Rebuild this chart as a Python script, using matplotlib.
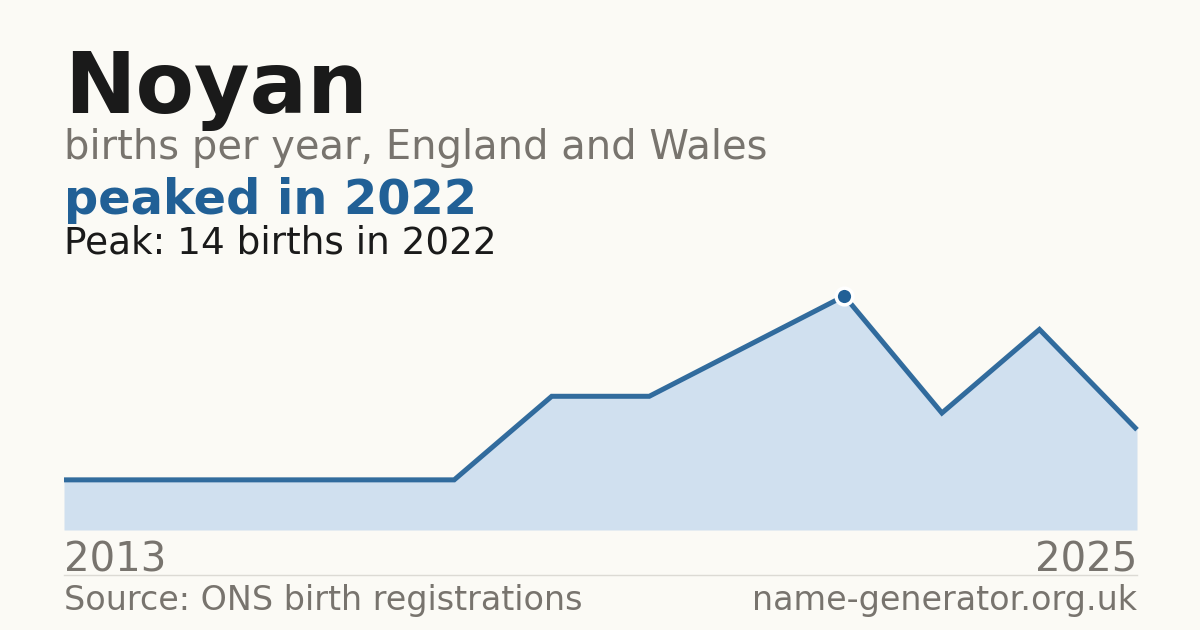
import matplotlib
matplotlib.use("Agg")
import matplotlib.pyplot as plt

# births per year (12 points plotted, labelled 2013 .. 2025 at the ends)
values = [3, 3, 3, 3, 3, 8, 8, 11, 14, 7, 12, 6]
first_label = "2013"
last_label = "2025"
peak_index = 8

name = "Noyan"
subtitle = "births per year, England and Wales"
headline = "peaked in 2022"
peak_note = "Peak: 14 births in 2022"
source = "Source: ONS birth registrations"
site = "name-generator.org.uk"

BG = "#fbfaf5"
BLUE = "#216096"
FILL = "#d0e0ef"
GREY = "#78746e"
DARK = "#1a1a1a"

W, H = 1200, 630
fig = plt.figure(figsize=(W / 100, H / 100), dpi=100, facecolor=BG)


def fx(px):
    return px / W


def fy(py):
    return 1 - py / H


# chart area: left 64, right 1137, bottom 530, top 270 (pixels)
ax = fig.add_axes([fx(64), fy(530), fx(1137 - 64), (530 - 270) / H])
ax.set_facecolor(BG)
xs = list(range(len(values)))
peak = max(values)
ax.fill_between(xs, values, 0, color=FILL, linewidth=0)
ax.plot(xs, values, color=BLUE, linewidth=3.6, solid_joinstyle="miter",
        solid_capstyle="butt", clip_on=False, alpha=0.92)
ax.plot([xs[peak_index]], [values[peak_index]], "o", color=BLUE,
        markersize=12, markeredgecolor="white", markeredgewidth=2.5,
        clip_on=False, zorder=5)
ax.set_xlim(0, len(values) - 1)
ax.set_ylim(0, peak * 260 / 234)
ax.axis("off")

# heading texts
fig.text(fx(64), fy(113), name, fontsize=61.4, fontweight="bold",
         color=DARK, va="baseline")
fig.text(fx(64), fy(159), subtitle, fontsize=28.8, color=GREY, va="baseline")
fig.text(fx(64), fy(214), headline, fontsize=34.5, fontweight="bold",
         color=BLUE, va="baseline")
fig.text(fx(64), fy(254), peak_note, fontsize=26.9, color=DARK,
         va="baseline")

# axis end labels
fig.text(fx(64), fy(571), first_label, fontsize=29, color=GREY,
         va="baseline")
fig.text(fx(1137), fy(571), last_label, fontsize=29, color=GREY,
         va="baseline", ha="right")

# separator
fig.add_artist(plt.Line2D([fx(64), fx(1137)], [fy(574.5), fy(574.5)],
                          color="#dcdad4", linewidth=1))

# footer
fig.text(fx(64), fy(610), source, fontsize=24, color=GREY, va="baseline")
fig.text(fx(1137), fy(610), site, fontsize=24, color=GREY, va="baseline",
         ha="right")

fig.savefig("out.png", dpi=100, facecolor=BG)
